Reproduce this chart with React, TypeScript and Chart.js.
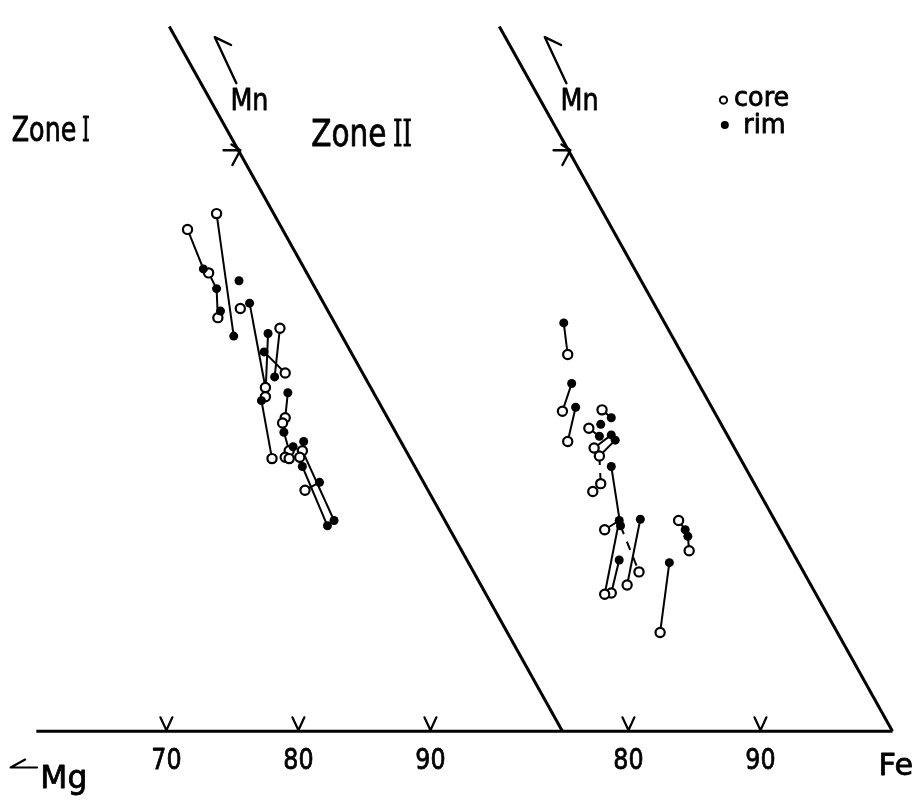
import React, { useEffect, useRef } from "react";
import { Chart, registerables } from "chart.js";
Chart.register(...registerables);

// ---- Data (Fe on the base scale, Mn = height above the Mg–Fe base) ----
// Zone I
const zone1CoreFe = [71.6, 73.2, 73.8, 73.9, 75.6, 77.5, 77.5, 78.6, 79.0, 78.0, 79.0, 78.8, 80.3, 79.3, 79.0, 79.3, 80.1, 80.5];
const zone1CoreMn = [38.1, 34.8, 39.3, 31.4, 32.1, 26.1, 25.4, 30.6, 27.2, 20.7, 23.8, 23.4, 21.3, 21.3, 20.8, 20.7, 20.8, 18.3];
const zone1RimFe = [72.8, 73.8, 74.1, 75.1, 75.5, 76.3, 77.7, 77.4, 78.2, 77.2, 79.2, 78.9, 80.4, 79.6, 80.3, 81.6, 82.2, 82.7];
const zone1RimMn = [35.1, 33.6, 31.9, 30.0, 34.2, 32.5, 30.2, 28.8, 26.9, 25.1, 25.7, 22.7, 22.0, 21.6, 20.1, 18.9, 15.6, 16.0];
const zone1Ties = [
  ["c0", "r0"], ["c1", "r1"], ["c3", "r1"], ["c2", "r3"], ["c5", "r5"], ["c6", "r6"],
  ["c8", "r7"], ["c7", "r8"], ["c9", "r9"], ["c10", "r10"], ["c13", "r11"], ["c12", "r12"],
  ["c17", "r15"], ["r14", "r16"], ["c12", "r17"],
];
const zone1DashedTies: string[][] = [];

// Zone II
const zone2CoreFe = [75.4, 75.0, 75.4, 78.0, 77.0, 77.4, 77.8, 77.9, 77.3, 78.2, 79.9, 78.7, 78.2, 80.8, 83.8, 84.6, 82.4];
const zone2CoreMn = [28.6, 24.3, 22.0, 24.4, 23.0, 21.5, 20.9, 18.8, 18.2, 15.3, 11.1, 10.5, 10.4, 12.1, 16.0, 13.7, 7.5];
const zone2RimFe = [75.1, 75.7, 76.0, 78.7, 77.9, 77.8, 78.7, 79.0, 78.7, 79.3, 79.4, 80.9, 79.3, 84.3, 84.5, 83.1];
const zone2RimMn = [31.0, 26.4, 24.6, 23.8, 23.3, 22.4, 22.5, 22.1, 20.1, 16.0, 15.6, 16.1, 13.0, 15.3, 14.8, 12.8];
const zone2Ties = [
  ["r0", "c0"], ["r1", "c1"], ["r2", "c2"], ["r8", "r10"], ["c9", "r9"], ["r9", "c12"],
  ["r11", "c10"], ["r12", "c11"], ["r15", "c16"], ["c14", "r13"], ["r13", "r14"], ["r14", "c15"],
  ["c3", "r3"], ["c4", "r5"], ["c6", "r7"], ["c5", "r6"],
];
const zone2DashedTies = [["r10", "c13"], ["c6", "c7"]];

// Base scale
const zone2Offset = 25;
const tickFe = [70, 80, 90, 80, 90];
const tickZone = [1, 1, 1, 2, 2];
const tickLabels = ["70", "80", "90", "80", "90"];
const baseStartFe = 60.15;
const edgeBottomFe = [100, 125];
const edgeTopFe = [70.22, 95.22];
const edgeTopMn = 53.5;

// scale window
const X_MIN = 57.9104, X_MAX = 126.3433;
const Y_MIN = -4.7015, Y_MAX = 55.0;

type P = { x: number; y: number };
const toPts = (fe: number[], mn: number[], off: number): P[] => fe.map((v, i) => ({ x: v + off, y: mn[i] }));

function tieSets(ties: string[][], cores: P[], rims: P[], dashed: boolean) {
  const pick = (s: string) => (s[0] === "c" ? cores : rims)[Number(s.slice(1))];
  return ties.map((t) => ({
    type: "scatter" as const,
    data: [pick(t[0]), pick(t[1])],
    showLine: true,
    borderColor: "#000",
    borderWidth: 2,
    borderDash: dashed ? [9, 8] : [],
    pointRadius: 0,
    order: 2,
  }));
}

function drawText(ctx: CanvasRenderingContext2D, s: string, px: number, py: number, size: number, family: string, sx: number, align: CanvasTextAlign = "left") {
  ctx.save();
  ctx.translate(px, py);
  ctx.scale(sx, 1);
  ctx.font = `${size}px ${family}`;
  ctx.textAlign = align;
  ctx.textBaseline = "alphabetic";
  ctx.lineWidth = 0.8;
  ctx.lineJoin = "round";
  ctx.fillText(s, 0, 0);
  ctx.strokeText(s, 0, 0);
  ctx.restore();
}

const SANS = '"DejaVu Sans", sans-serif';
const SERIF = '"DejaVu Serif", serif';

const annotations = {
  id: "annotations",
  afterDatasetsDraw(chart: any) {
    const ctx: CanvasRenderingContext2D = chart.ctx;
    const xs = chart.scales.x, ys = chart.scales.y;
    const X = (v: number) => xs.getPixelForValue(v);
    const Y = (v: number) => ys.getPixelForValue(v);
    ctx.save();
    ctx.fillStyle = "#000";
    ctx.strokeStyle = "#000";
    ctx.lineCap = "round";
    ctx.lineJoin = "round";

    // tick marks and labels
    tickFe.forEach((v, i) => {
      const px = X(v + (tickZone[i] === 2 ? zone2Offset : 0));
      const py = Y(0);
      ctx.lineWidth = 2.2;
      ctx.beginPath();
      ctx.moveTo(px - 6, py - 14);
      ctx.lineTo(px, py - 1);
      ctx.lineTo(px + 6, py - 14);
      ctx.stroke();
      drawText(ctx, tickLabels[i], px, Y(-2.84), 29, SANS, 0.82, "center");
    });

    // zone titles
    drawText(ctx, "Zone", X(58.28), Y(44.78), 33, SANS, 0.77);
    drawText(ctx, "I", X(63.6), Y(44.78), 33, SERIF, 0.6);
    drawText(ctx, "Zone", X(80.97), Y(44.4), 37, SANS, 0.8);
    drawText(ctx, "II", X(87.16), Y(44.4), 37, SERIF, 0.65);

    // Mn labels and arrows for both panels
    [0, zone2Offset].forEach((off) => {
      drawText(ctx, "Mn", X(74.85 + off), Y(47.17), 31, SANS, 0.82);
      ctx.lineWidth = 2.4;
      ctx.beginPath();
      ctx.moveTo(X(75.3 + off), Y(49.2));
      ctx.lineTo(X(73.66 + off), Y(52.7));
      ctx.lineTo(X(74.9 + off), Y(52.1));
      ctx.stroke();
      ctx.beginPath();
      ctx.moveTo(X(74.33 + off), Y(44.11));
      ctx.lineTo(X(75.6 + off), Y(44.11));
      ctx.moveTo(X(74.93 + off), Y(44.55));
      ctx.lineTo(X(75.6 + off), Y(44.11));
      ctx.lineTo(X(75.0 + off), Y(42.99));
      ctx.stroke();
    });

    // legend
    ctx.lineWidth = 2;
    ctx.beginPath();
    ctx.arc(X(112.2), Y(47.92), 3.6, 0, Math.PI * 2);
    ctx.stroke();
    drawText(ctx, "core", X(113.0), Y(47.47), 26, SANS, 0.98);
    ctx.beginPath();
    ctx.arc(X(112.3), Y(46.03), 4, 0, Math.PI * 2);
    ctx.fill();
    drawText(ctx, "rim", X(113.7), Y(45.43), 26, SANS, 0.98);

    // end members
    ctx.lineWidth = 2.2;
    ctx.beginPath();
    ctx.moveTo(X(60.2), Y(-2.75));
    ctx.lineTo(X(58.2), Y(-2.75));
    ctx.lineTo(X(59.3), Y(-2.15));
    ctx.stroke();
    drawText(ctx, "Mg", X(60.45), Y(-4.3), 32, SANS, 0.98);
    drawText(ctx, "Fe", X(123.95), Y(-3.35), 31, SANS, 0.98);
    ctx.restore();
  },
};

export default function App() {
  const ref = useRef<HTMLCanvasElement | null>(null);
  useEffect(() => {
    if (!ref.current) return;
    const c1 = toPts(zone1CoreFe, zone1CoreMn, 0);
    const r1 = toPts(zone1RimFe, zone1RimMn, 0);
    const c2 = toPts(zone2CoreFe, zone2CoreMn, zone2Offset);
    const r2 = toPts(zone2RimFe, zone2RimMn, zone2Offset);
    const frame = (data: P[]) => ({
      type: "scatter" as const,
      data,
      showLine: true,
      borderColor: "#000",
      borderWidth: 3,
      pointRadius: 0,
      order: 3,
    });
    const chart = new Chart(ref.current, {
      type: "scatter",
      data: {
        datasets: [
          {
            data: [...r1, ...r2],
            pointRadius: 4.5,
            pointBackgroundColor: "#000",
            pointBorderWidth: 0,
            borderColor: "#000",
            order: 0,
          } as any,
          {
            data: [...c1, ...c2],
            pointRadius: 4.6,
            pointBackgroundColor: "#fff",
            pointBorderColor: "#000",
            pointBorderWidth: 2.2,
            order: 1,
          } as any,
          ...tieSets(zone1Ties, c1, r1, false),
          ...tieSets(zone1DashedTies, c1, r1, true),
          ...tieSets(zone2Ties, c2, r2, false),
          ...tieSets(zone2DashedTies, c2, r2, true),
          frame([{ x: baseStartFe, y: 0 }, { x: edgeBottomFe[1], y: 0 }]),
          frame([{ x: edgeTopFe[0], y: edgeTopMn }, { x: edgeBottomFe[0], y: 0 }]),
          frame([{ x: edgeTopFe[1], y: edgeTopMn }, { x: edgeBottomFe[1], y: 0 }]),
        ],
      },
      options: {
        animation: false,
        responsive: false,
        devicePixelRatio: 1,
        layout: { padding: 0 },
        events: [],
        scales: {
          x: { type: "linear", min: X_MIN, max: X_MAX, display: false },
          y: { type: "linear", min: Y_MIN, max: Y_MAX, display: false },
        },
        plugins: { legend: { display: false }, tooltip: { enabled: false } },
      },
      plugins: [annotations],
    });
    return () => chart.destroy();
  }, []);
  return (
    <div style={{ position: "fixed", left: 0, top: 0, width: 917, height: 800, background: "#fff" }}>
      <canvas ref={ref} width={917} height={800} style={{ display: "block" }} />
    </div>
  );
}
